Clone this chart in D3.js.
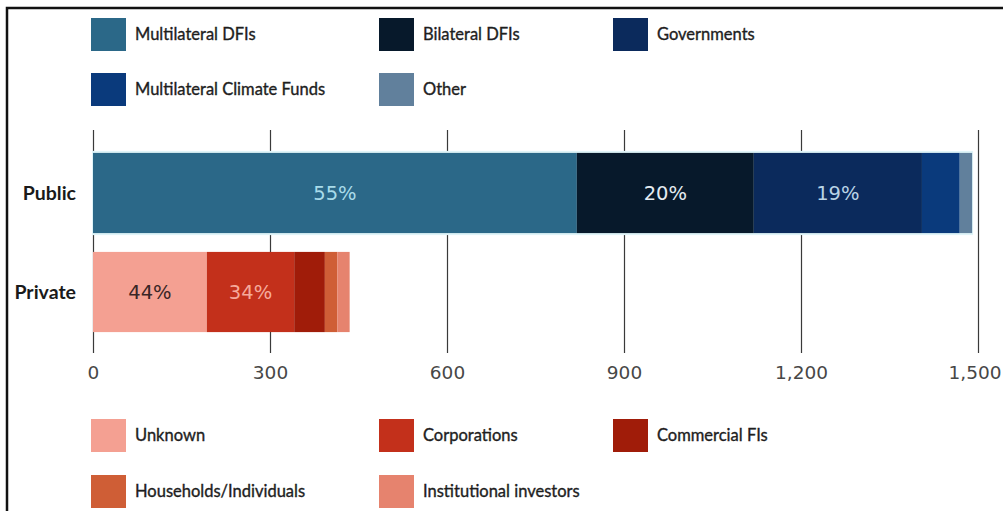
<!DOCTYPE html>
<html>
<head>
<meta charset="utf-8">
<script src="https://cdn.jsdelivr.net/npm/d3@7"></script>
<style>
  html, body { margin: 0; padding: 0; background: #fff; }
  svg { display: block; }
</style>
</head>
<body>
<svg id="chart" width="1003" height="511"></svg>
<script>
// Climate finance flows by source (USD billions), stacked per sector
const sectors = ["Public", "Private"];

const publicSources = ["Multilateral DFIs", "Bilateral DFIs", "Governments", "Multilateral Climate Funds", "Other"];
const publicValues = [820, 300, 285, 64, 21];
const publicColors = ["#2b6888", "#07192b", "#0b2a5c", "#0a3a7c", "#61809c"];
const publicLabelColors = ["#a9dcea", "#e4ecf2", "#b9d4e6", "#fff", "#fff"];

const privateSources = ["Unknown", "Corporations", "Commercial FIs", "Households/Individuals", "Institutional investors"];
const privateValues = [193, 148, 52, 21, 21];
const privateColors = ["#f4a092", "#c3301b", "#a01c09", "#cf5e36", "#e6836e"];
const privateLabelColors = ["#3a2626", "#f6aa9c", "#fff", "#fff", "#fff"];

const axisTicks = [0, 300, 600, 900, 1200, 1500];

const svg = d3.select("#chart");

// frame
svg.append("path")
  .attr("d", "M7,511 V8 H1003")
  .attr("fill", "none")
  .attr("stroke", "#111")
  .attr("stroke-width", 2.5);

const x = d3.scaleLinear().domain([0, 1500]).range([93, 978]);
const y = d3.scaleBand().domain(sectors).range([143, 342]).paddingInner(0.19).paddingOuter(0.1);

// vertical gridlines behind the bars
svg.append("g").selectAll("line")
  .data(axisTicks)
  .join("line")
  .attr("x1", d => Math.round(x(d)) + 0.5)
  .attr("x2", d => Math.round(x(d)) + 0.5)
  .attr("y1", 130)
  .attr("y2", 353)
  .attr("stroke", "#3a3a3a")
  .attr("stroke-width", 1.2);

// tick labels; the last one is right-aligned so it stays inside the frame
const axis = d3.axisBottom(x).tickValues(axisTicks).tickSize(0).tickPadding(0).tickFormat(d3.format(","));
const axisG = svg.append("g").attr("transform", "translate(0,366)").call(axis);
axisG.select(".domain").remove();
axisG.selectAll("text")
  .attr("font-family", "'DejaVu Sans', sans-serif")
  .attr("font-size", 18.5)
  .attr("fill", "#474747")
  .attr("dy", "0.68em");
axisG.selectAll(".tick")
  .filter(d => d === axisTicks[axisTicks.length - 1])
  .select("text")
  .attr("text-anchor", "end")
  .attr("x", 1001 - x(axisTicks[axisTicks.length - 1]));

// stacked bars
const rows = [
  { sector: "Public", values: publicValues, colors: publicColors, labelColors: publicLabelColors },
  { sector: "Private", values: privateValues, colors: privateColors, labelColors: privateLabelColors }
];

rows.forEach(row => {
  const total = d3.sum(row.values);
  const cum = d3.cumsum(row.values);
  const segs = row.values.map((v, i) => ({
    start: cum[i] - v, end: cum[i], share: v / total,
    color: row.colors[i], labelColor: row.labelColors[i]
  }));
  const g = svg.append("g");
  // soft light halo around the public bar
  if (row.sector === "Public") {
    g.append("rect")
      .attr("x", x(0) - 1)
      .attr("y", y(row.sector) - 2)
      .attr("width", x(total) - x(0) + 2)
      .attr("height", y.bandwidth() + 4)
      .attr("fill", "#dff4f8");
  }
  g.selectAll("rect.seg")
    .data(segs)
    .join("rect")
    .attr("class", "seg")
    .attr("x", d => x(d.start))
    .attr("y", y(row.sector))
    .attr("width", d => x(d.end) - x(d.start))
    .attr("height", y.bandwidth())
    .attr("fill", d => d.color);

  g.selectAll("text.pct")
    .data(segs.filter(d => d.share >= 0.15))
    .join("text")
    .attr("class", "pct")
    .attr("x", d => (x(d.start) + x(d.end)) / 2)
    .attr("y", y(row.sector) + y.bandwidth() / 2)
    .attr("dy", "0.36em")
    .attr("text-anchor", "middle")
    .attr("font-family", "'DejaVu Sans', sans-serif")
    .attr("font-size", 19.5)
    .attr("fill", d => d.labelColor)
    .text(d => Math.round(d.share * 100) + "%");
});

// sector labels
svg.append("g").selectAll("text")
  .data(sectors)
  .join("text")
  .attr("x", 76)
  .attr("y", d => y(d) + y.bandwidth() / 2)
  .attr("dy", "0.36em")
  .attr("text-anchor", "end")
  .attr("font-family", "Lato, sans-serif")
  .attr("font-weight", "bold")
  .attr("font-size", 19.5)
  .attr("fill", "#1a1a1a")
  .text(d => d);

// legends
const colX = [91, 379, 613];
function legend(names, colors, rowTops) {
  const items = names.map((n, i) => ({ name: n, color: colors[i], col: i % 3, row: Math.floor(i / 3) }));
  const g = svg.append("g");
  const item = g.selectAll("g").data(items).join("g")
    .attr("transform", d => `translate(${colX[d.col]},${rowTops[d.row]})`);
  item.append("rect")
    .attr("width", 35)
    .attr("height", 33)
    .attr("fill", d => d.color);
  item.append("text")
    .attr("x", 44)
    .attr("y", 16.5)
    .attr("dy", "0.36em")
    .attr("font-family", "Lato, sans-serif")
    .attr("font-size", 16.5)
    .attr("fill", "#1e1e1e")
    .attr("stroke", "#1e1e1e")
    .attr("stroke-width", 0.35)
    .text(d => d.name);
}
legend(publicSources, publicColors, [18, 73]);
legend(privateSources, privateColors, [419, 475]);
</script>
</body>
</html>
